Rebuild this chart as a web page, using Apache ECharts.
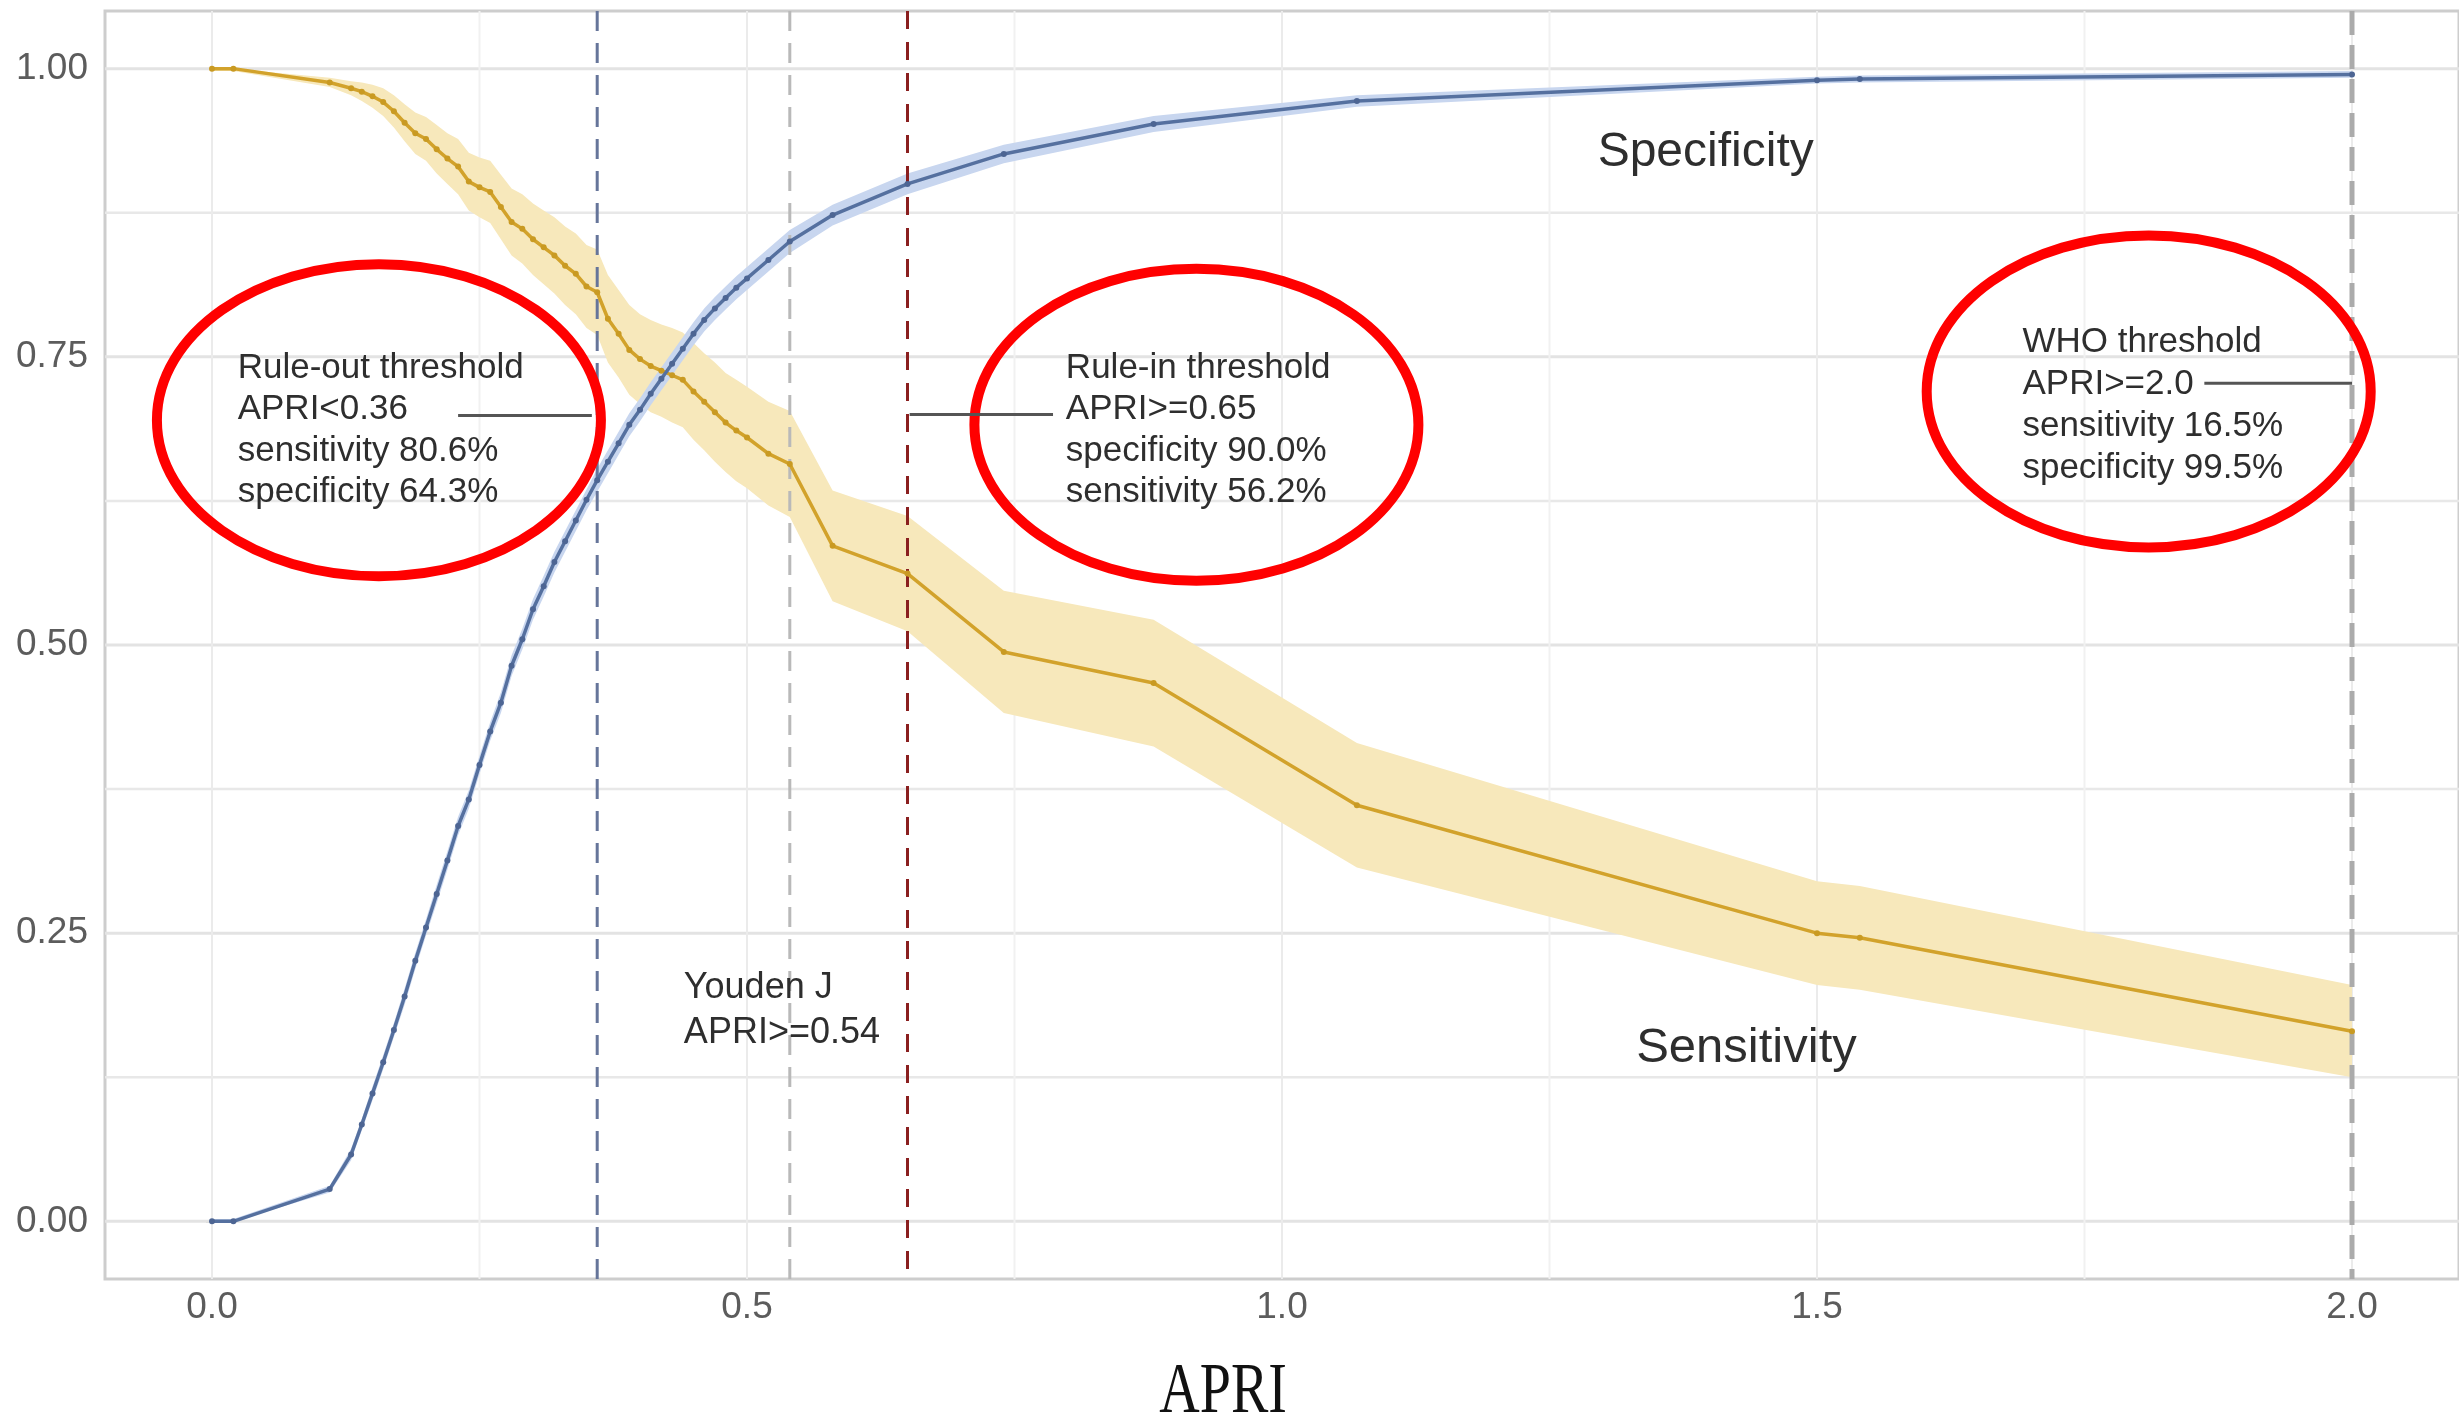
<!DOCTYPE html>
<html>
<head>
<meta charset="utf-8">
<script src="https://cdn.jsdelivr.net/npm/echarts@6/dist/echarts.min.js"></script>
<style>
html,body{margin:0;padding:0;background:#ffffff;}
#chart{width:2459px;height:1419px;}
</style>
</head>
<body>
<div id="chart"></div>
<script>
// ---------------- DATA ----------------
const apri = [0, 0.02, 0.11, 0.13, 0.14, 0.15, 0.16, 0.17, 0.18, 0.19, 0.20, 0.21, 0.22, 0.23, 0.24, 0.25, 0.26, 0.27, 0.28, 0.29, 0.30, 0.31, 0.32, 0.33, 0.34, 0.35, 0.36, 0.37, 0.38, 0.39, 0.40, 0.41, 0.42, 0.43, 0.44, 0.45, 0.46, 0.47, 0.48, 0.49, 0.50, 0.52, 0.54, 0.58, 0.65, 0.74, 0.88, 1.07, 1.50, 1.54, 2.00];

const sensitivity = [1.000, 1.000, 0.988, 0.983, 0.980, 0.976, 0.971, 0.963, 0.953, 0.944, 0.939, 0.930, 0.922, 0.915, 0.902, 0.897, 0.893, 0.880, 0.867, 0.861, 0.852, 0.845, 0.838, 0.829, 0.822, 0.811, 0.806, 0.783, 0.770, 0.756, 0.748, 0.742, 0.738, 0.734, 0.730, 0.720, 0.711, 0.702, 0.693, 0.686, 0.680, 0.666, 0.657, 0.586, 0.562, 0.494, 0.467, 0.361, 0.250, 0.246, 0.165];
const sensLower = [0.998, 0.998, 0.984, 0.977, 0.972, 0.966, 0.959, 0.949, 0.937, 0.926, 0.920, 0.909, 0.900, 0.891, 0.877, 0.871, 0.866, 0.852, 0.838, 0.831, 0.821, 0.813, 0.805, 0.795, 0.787, 0.775, 0.769, 0.745, 0.732, 0.717, 0.709, 0.702, 0.698, 0.693, 0.689, 0.678, 0.669, 0.659, 0.650, 0.642, 0.636, 0.621, 0.611, 0.538, 0.512, 0.441, 0.412, 0.307, 0.205, 0.201, 0.125];
const sensUpper = [1.000, 1.000, 0.992, 0.989, 0.988, 0.986, 0.983, 0.977, 0.969, 0.962, 0.958, 0.951, 0.944, 0.939, 0.927, 0.923, 0.920, 0.908, 0.896, 0.891, 0.883, 0.877, 0.871, 0.863, 0.857, 0.847, 0.843, 0.821, 0.808, 0.795, 0.787, 0.782, 0.778, 0.775, 0.771, 0.762, 0.753, 0.745, 0.736, 0.730, 0.724, 0.711, 0.703, 0.634, 0.612, 0.547, 0.522, 0.415, 0.295, 0.291, 0.205];

const specificity = [0.000, 0.000, 0.028, 0.058, 0.084, 0.111, 0.138, 0.166, 0.195, 0.226, 0.255, 0.284, 0.313, 0.343, 0.366, 0.396, 0.425, 0.450, 0.482, 0.505, 0.531, 0.551, 0.572, 0.590, 0.608, 0.626, 0.643, 0.659, 0.675, 0.691, 0.704, 0.718, 0.731, 0.744, 0.757, 0.770, 0.782, 0.792, 0.801, 0.810, 0.818, 0.834, 0.850, 0.873, 0.900, 0.926, 0.952, 0.972, 0.990, 0.991, 0.995];
const specLower = [0.000, 0.000, 0.025, 0.053, 0.079, 0.105, 0.132, 0.160, 0.188, 0.219, 0.248, 0.276, 0.305, 0.335, 0.358, 0.388, 0.417, 0.441, 0.473, 0.496, 0.522, 0.542, 0.563, 0.581, 0.599, 0.617, 0.633, 0.649, 0.665, 0.681, 0.694, 0.708, 0.721, 0.734, 0.747, 0.760, 0.772, 0.782, 0.791, 0.800, 0.808, 0.824, 0.840, 0.864, 0.891, 0.918, 0.945, 0.967, 0.987, 0.988, 0.992];
const specUpper = [0.002, 0.002, 0.031, 0.063, 0.089, 0.117, 0.144, 0.172, 0.202, 0.233, 0.262, 0.292, 0.321, 0.351, 0.374, 0.404, 0.433, 0.459, 0.491, 0.514, 0.540, 0.560, 0.581, 0.599, 0.617, 0.635, 0.653, 0.669, 0.685, 0.701, 0.714, 0.728, 0.741, 0.754, 0.767, 0.780, 0.792, 0.802, 0.811, 0.820, 0.828, 0.844, 0.860, 0.882, 0.909, 0.934, 0.959, 0.977, 0.993, 0.994, 0.998];

const xTicks = [0, 0.5, 1.0, 1.5, 2.0];
const xMinorBreaks = [0.25, 0.75, 1.25, 1.75];
const yTicks = [0, 0.25, 0.5, 0.75, 1.0];
const yMinorBreaks = [0.125, 0.375, 0.625, 0.875];

const thresholdValues = [0.36, 0.54, 0.65, 2.0];

const annotationLines = [
  ['Rule-out threshold', 'APRI<0.36', 'sensitivity 80.6%', 'specificity 64.3%'],
  ['Rule-in threshold', 'APRI>=0.65', 'specificity 90.0%', 'sensitivity 56.2%'],
  ['WHO threshold', 'APRI>=2.0', 'sensitivity 16.5%', 'specificity 99.5%'],
  ['Youden J', 'APRI>=0.54'],
  ['Specificity'],
  ['Sensitivity'],
  ['APRI']
];

// ---------------- LAYOUT / STYLE ----------------
const SANS = '"Liberation Sans", Arial, sans-serif';
const SERIF = '"Liberation Serif", "Times New Roman", serif';

const thresholdStyles = [
  {color: '#66759a', width: 3, dash: [20, 12]},
  {color: '#b9b9b9', width: 3, dash: [20, 12]},
  {color: '#8a1f1f', width: 3, dash: [18, 13]},
  {color: '#ababab', width: 5, dash: [24, 10]}
];

// placement of each annotation (data coordinates of anchor), ellipse and connector
const annotationLayout = [
  {at: [0.024, 0.686], font: '35px ' + SANS, lh: 41.5, ellipse: {c: [0.156, 0.695], rx: 222, ry: 156}, conn: [0.230, 0.355, 0.699]},
  {at: [0.798, 0.686], font: '35px ' + SANS, lh: 41.5, ellipse: {c: [0.920, 0.691], rx: 222, ry: 156}, conn: [0.652, 0.786, 0.700]},
  {at: [1.692, 0.708], font: '35px ' + SANS, lh: 42, ellipse: {c: [1.810, 0.720], rx: 222, ry: 156}, conn: [1.862, 2.000, 0.727]},
  {at: [0.441, 0.183], font: '36px ' + SANS, lh: 45},
  {at: [1.295, 0.927], font: '48px ' + SANS, lh: 50},
  {at: [1.331, 0.150], font: '49px ' + SANS, lh: 50},
  {at: [0.945, -0.149], font: '56px ' + SERIF, lh: 60, align: 'center', scaleY: 1.28, color: '#111'}
];

const gridStyles = [
  {color: '#e3e3e3', width: 3},   // horizontal major
  {color: '#e8e8e8', width: 2.5}, // horizontal minor
  {color: '#ebebeb', width: 2},   // vertical major
  {color: '#f1f1f1', width: 2}    // vertical minor
];

// ---------------- CHART ----------------
const chart = echarts.init(document.getElementById('chart'), null, {renderer: 'canvas', width: 2459, height: 1419});

const gridData = []
  .concat(yTicks.map(v => [v, 0]))
  .concat(yMinorBreaks.map(v => [v, 1]))
  .concat(xTicks.map(v => [v, 2]))
  .concat(xMinorBreaks.map(v => [v, 3]));

function bandRenderer(xs, lo, hi, color) {
  return function (params, api) {
    if (params.dataIndex !== 0) return null;
    const pts = [];
    for (let i = 0; i < xs.length; i++) pts.push(api.coord([xs[i], hi[i]]));
    for (let i = xs.length - 1; i >= 0; i--) pts.push(api.coord([xs[i], lo[i]]));
    return {type: 'polygon', shape: {points: pts}, style: {fill: color}};
  };
}

const option = {
  animation: false,
  backgroundColor: '#ffffff',
  grid: {left: 105, top: 11, width: 2357, height: 1268, show: true, borderColor: '#cdcdcd', borderWidth: 3, backgroundColor: '#ffffff'},
  xAxis: {
    type: 'value', min: -0.1, max: 2.1,
    axisLine: {show: false},
    splitLine: {show: false},
    axisTick: {show: true, customValues: xTicks, length: 6, lineStyle: {color: '#cdcdcd', width: 2}},
    axisLabel: {customValues: xTicks, formatter: v => v.toFixed(1), fontFamily: SANS, fontSize: 37, color: '#5c5c5c', margin: 10}
  },
  yAxis: {
    type: 'value', min: -0.05, max: 1.05,
    axisLine: {show: false},
    splitLine: {show: false},
    axisTick: {show: true, customValues: yTicks, length: 6, lineStyle: {color: '#cdcdcd', width: 2}},
    axisLabel: {customValues: yTicks, formatter: v => v.toFixed(2), fontFamily: SANS, fontSize: 37, color: '#5c5c5c', margin: 17}
  },
  series: [
    {
      type: 'custom', name: 'gridlines', z: 1, silent: true, clip: false,
      data: gridData,
      renderItem: function (params, api) {
        const cs = params.coordSys;
        const v = api.value(0), k = api.value(1);
        const st = gridStyles[k];
        if (k < 2) {
          const y = api.coord([0, v])[1];
          return {type: 'line', shape: {x1: cs.x, y1: y, x2: cs.x + cs.width, y2: y}, style: {stroke: st.color, lineWidth: st.width}};
        }
        const x = api.coord([v, 0])[0];
        return {type: 'line', shape: {x1: x, y1: cs.y, x2: x, y2: cs.y + cs.height}, style: {stroke: st.color, lineWidth: st.width}};
      }
    },
    {
      type: 'custom', name: 'Sensitivity CI', z: 2, silent: true,
      data: apri.map((x, i) => [x, sensLower[i], sensUpper[i]]),
      renderItem: bandRenderer(apri, sensLower, sensUpper, '#f7e8bb')
    },
    {
      type: 'custom', name: 'Specificity CI', z: 2, silent: true,
      data: apri.map((x, i) => [x, specLower[i], specUpper[i]]),
      renderItem: bandRenderer(apri, specLower, specUpper, '#c8d6ef')
    },
    {
      type: 'custom', name: 'thresholds', z: 3, silent: true, clip: false,
      data: thresholdValues.map(v => [v]),
      renderItem: function (params, api) {
        const cs = params.coordSys;
        const x = api.coord([api.value(0), 0])[0];
        const st = thresholdStyles[params.dataIndex];
        return {type: 'line', shape: {x1: x, y1: cs.y, x2: x, y2: cs.y + cs.height}, style: {stroke: st.color, lineWidth: st.width, lineDash: st.dash}};
      }
    },
    {
      type: 'line', name: 'Sensitivity', z: 4,
      data: apri.map((x, i) => [x, sensitivity[i]]),
      symbol: 'circle', symbolSize: 6, showSymbol: true,
      lineStyle: {color: '#d2a22b', width: 3.5},
      itemStyle: {color: '#c99a22'}
    },
    {
      type: 'line', name: 'Specificity', z: 5,
      data: apri.map((x, i) => [x, specificity[i]]),
      symbol: 'circle', symbolSize: 6, showSymbol: true,
      lineStyle: {color: '#55709f', width: 3.5},
      itemStyle: {color: '#4d6593'}
    },
    {
      type: 'custom', name: 'annotations', z: 6, silent: true, clip: false,
      data: annotationLines.map((l, i) => [i]),
      renderItem: function (params, api) {
        const i = params.dataIndex;
        const lay = annotationLayout[i];
        const children = [];
        if (lay.ellipse) {
          const c = api.coord(lay.ellipse.c);
          children.push({type: 'ellipse', shape: {cx: c[0], cy: c[1], rx: lay.ellipse.rx, ry: lay.ellipse.ry}, style: {fill: 'none', stroke: '#ff0000', lineWidth: 10}});
        }
        if (lay.conn) {
          const p1 = api.coord([lay.conn[0], lay.conn[2]]);
          const p2 = api.coord([lay.conn[1], lay.conn[2]]);
          children.push({type: 'line', shape: {x1: p1[0], y1: p1[1], x2: p2[0], y2: p2[1]}, style: {stroke: '#555555', lineWidth: 3}});
        }
        const t = api.coord(lay.at);
        children.push({
          type: 'text', x: t[0], y: t[1], scaleY: lay.scaleY || 1,
          style: {text: annotationLines[i].join('\n'), font: lay.font, fill: lay.color || '#2e2e2e', align: lay.align || 'left', verticalAlign: 'middle', lineHeight: lay.lh}
        });
        return {type: 'group', children: children};
      }
    }
  ]
};

chart.setOption(option);
</script>
</body>
</html>
